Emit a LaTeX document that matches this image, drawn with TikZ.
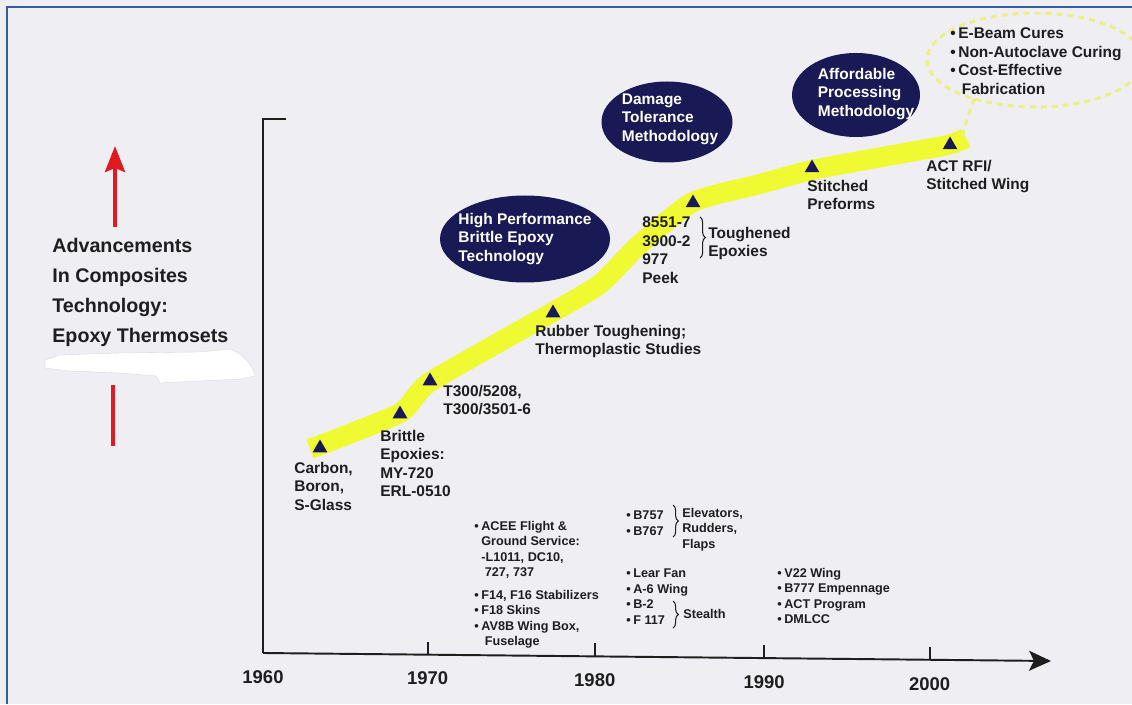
\documentclass[tikz,border=0pt]{standalone}
\usepackage{fontspec}
\setmainfont{Liberation Sans}
\usepackage{xcolor}
\usetikzlibrary{arrows.meta,positioning,calc,shapes.geometric,decorations.pathreplacing}

\definecolor{paper}{RGB}{238,238,243}
\definecolor{frameblue}{RGB}{50,95,160}
\definecolor{navy}{RGB}{25,25,85}
\definecolor{bandyellow}{RGB}{240,250,50}
\definecolor{lasso}{RGB}{236,240,130}
\definecolor{arrowred}{RGB}{225,25,35}
\definecolor{ink}{RGB}{30,30,30}

\newcommand{\itm}{\makebox[0pt][r]{\textbullet\hspace{1.5pt}}}

\begin{document}
\begin{tikzpicture}[
    bubble/.style={ellipse, fill=navy, inner sep=0pt},
    bubbletext/.style={text=white, align=left, font=\fontsize{8.8}{10.55}\selectfont\bfseries},
    marker/.style={regular polygon, regular polygon sides=3, fill=navy, inner sep=0pt, minimum size=0.34cm},
    tag/.style={text=ink, align=left, inner sep=0pt, anchor=north west, font=\fontsize{8.8}{10.55}\selectfont\bfseries},
    listtext/.style={text=ink, align=left, inner sep=0pt, anchor=north west, font=\fontsize{7.2}{8.9}\selectfont\bfseries},
    headline/.style={text=ink, align=left, inner sep=0pt, anchor=north west, font=\fontsize{11.2}{17}\selectfont\bfseries},
    year/.style={text=ink, inner sep=0pt, font=\fontsize{10.5}{12}\selectfont\bfseries},
    axisline/.style={draw=ink, line width=1.1pt},
    curly/.style={draw=ink, line width=0.6pt, decorate, decoration={brace, amplitude=3pt}},
    dashring/.style={draw=lasso, line width=0.06cm, dash pattern=on 0.12cm off 0.1cm}
]

\useasboundingbox (0,0) rectangle (22.64,14.08);

% Frame
\fill[paper] (0,0) rectangle (22.64,14.08);
\draw[frameblue, line width=0.05cm] (0.14,0) -- (0.14,13.94) -- (22.64,13.94);

% Axes
\coordinate (O) at (5.26,1.02);
\coordinate (ytop) at (5.26,11.70);
\coordinate (ytick) at (5.72,11.70);
\coordinate (xend) at (21.02,0.86);
\draw[axisline] (ytick) -- (ytop) -- (O);
\draw[axisline, -{Stealth[length=0.44cm,width=0.4cm,inset=0.1cm]}] (O) -- (xend);
\foreach \yr/\p in {1970/0.209,1980/0.421,1990/0.636,2000/0.846}{
  \path (O) -- (xend) coordinate[pos=\p] (t\yr);
  \draw[axisline] (t\yr) -- ++(0,0.26);
}
\coordinate (t1960) at (O);
\foreach \yr in {1960,1970,1980,1990,2000}
  \node[year, below=0.34cm of t\yr] (y\yr) {\yr};

% Yellow trend band
\draw[bandyellow, line width=0.4cm] plot[smooth, tension=0.35] coordinates {(6.20,5.10) (8.00,5.82) (8.60,6.44) (11.06,7.84) (12.00,8.40) (12.80,9.20) (13.86,10.04) (15.20,10.40) (16.24,10.68) (17.86,10.98) (18.96,11.18) (19.32,11.32)};

% Dashed ring round the future items
\draw[dashring] (20.70,12.88) ellipse [x radius=2.16, y radius=0.94];
\coordinate (ringfoot) at (19.26,11.36);
\coordinate (ringjoin) at (19.50,12.14);
\draw[dashring] (ringfoot) to[out=80,in=250] (ringjoin);

% Milestones
\node[marker] (carbon) at (6.40,5.12) {};
\node[marker] (brittle) at (8.00,5.80) {};
\node[marker] (tthree) at (8.60,6.46) {};
\node[marker] (rubber) at (11.06,7.82) {};
\node[marker] (tough) at (13.86,10.02) {};
\node[marker] (stitch) at (16.24,10.72) {};
\node[marker] (actrfi) at (19.00,11.18) {};

\node[tag] (carbonlbl) at (5.88,4.85) {Carbon,\\Boron,\\S-Glass};
\node[tag] (brittlelbl) at (7.60,5.49) {Brittle\\Epoxies:\\MY-720\\ERL-0510};
\node[tag] (tthreelbl) at (8.86,6.39) {T300/5208,\\T300/3501-6};
\node[tag] (rubberlbl) at (10.70,7.59) {Rubber Toughening;\\Thermoplastic Studies};
\node[tag] (toughlbl) at (12.84,9.75) {8551-7\\3900-2\\977\\Peek};
\node[tag] (toughnote) at (14.16,9.55) {Toughened\\Epoxies};
\node[tag] (stitchlbl) at (16.14,10.49) {Stitched\\Preforms};
\node[tag] (actrfilbl) at (18.52,10.89) {ACT RFI/\\Stitched Wing};
\node[tag] (curing) at (19.16,13.53) {\itm E-Beam Cures\\\itm Non-Autoclave Curing\\\itm Cost-Effective\\\hspace*{2pt}Fabrication};

\coordinate (tb1) at (14.00,9.74);
\coordinate (tb2) at (14.00,8.92);
\draw[curly] (tb1) -- (tb2);

% Technology bubbles
\node[bubble, minimum width=3.40cm, minimum height=1.74cm] (hp) at (10.50,9.30) {};
\node[bubbletext] at (hp) {High Performance\\Brittle Epoxy\\Technology};
\node[bubble, minimum width=2.62cm, minimum height=1.62cm] (dt) at (13.34,11.64) {};
\node[bubbletext] at (13.40,11.70) {Damage\\Tolerance\\Methodology};
\node[bubble, minimum width=2.56cm, minimum height=1.68cm] (ap) at (17.12,12.18) {};
\node[bubbletext] at (17.32,12.20) {Affordable\\Processing\\Methodology};

% Left side caption
\fill[white, draw=gray!30, line width=0.2pt] (0.90,6.88) -- (1.20,6.98) -- (2.40,7.02) -- (4.00,7.04) -- (4.60,7.10) -- (4.80,7.00) -- (4.94,6.86) -- (5.06,6.70) -- (5.10,6.56) -- (4.80,6.50) -- (4.00,6.46) -- (3.20,6.42) -- (3.12,6.56) -- (2.40,6.62) -- (1.40,6.66) -- (0.90,6.72) -- cycle;
\node[headline] (adv) at (1.04,9.32) {Advancements\\In Composites\\Technology:\\Epoxy Thermosets};
\coordinate (upfoot) at (2.30,9.54);
\coordinate (uptip) at (2.30,11.16);
\draw[arrowred, line width=0.08cm, -{Stealth[length=0.52cm,width=0.4cm,inset=0.08cm]}] (upfoot) -- (uptip);
\coordinate (downtop) at (2.26,6.38);
\coordinate (downfoot) at (2.26,5.16);
\draw[arrowred, line width=0.08cm] (downtop) -- (downfoot);

% Applications
\node[listtext] (acee) at (9.62,3.67) {\itm ACEE Flight \&\\Ground Service:\\-L1011, DC10,\\\hspace*{2pt}727, 737};
\node[listtext] (fseries) at (9.62,2.29) {\itm F14, F16 Stabilizers\\\itm F18 Skins\\\itm AV8B Wing Box,\\\hspace*{2pt}Fuselage};
\node[listtext] (boeing) at (12.66,3.87) {\itm B757\\\itm B767};
\node[listtext] (surfaces) at (13.64,3.93) {Elevators,\\Rudders,\\Flaps};
\node[listtext] (lear) at (12.66,2.71) {\itm Lear Fan\\\itm A-6 Wing\\\itm B-2\\\itm F 117};
\node[listtext, anchor=west] (stealth) at (13.66,1.80) {Stealth};
\node[listtext] (vtol) at (15.68,2.73) {\itm V22 Wing\\\itm B777 Empennage\\\itm ACT Program\\\itm DMLCC};

\coordinate (bb1) at (13.46,3.98);
\coordinate (bb2) at (13.46,3.34);
\draw[curly] (bb1) -- (bb2);
\coordinate (sb1) at (13.46,2.06);
\coordinate (sb2) at (13.46,1.52);
\draw[curly] (sb1) -- (sb2);

\end{tikzpicture}
\end{document}
